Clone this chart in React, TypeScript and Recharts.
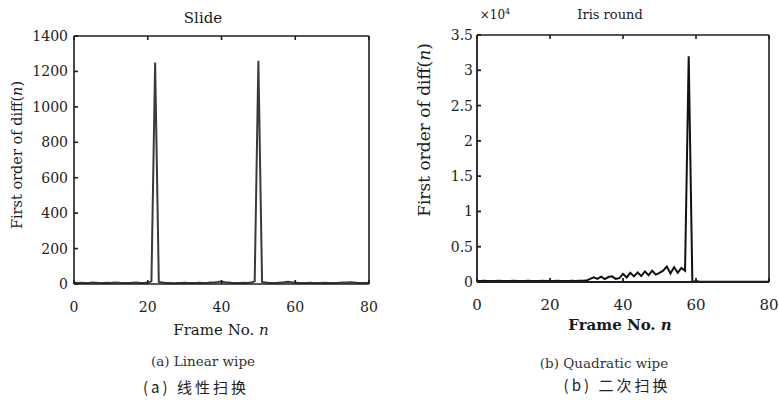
import React from 'react';
import { LineChart, Line, XAxis, YAxis } from 'recharts';

// Frame numbers 0..80
const frames: number[] = Array.from({ length: 81 }, (_, i) => i);

// (a) Slide / Linear wipe: first order of diff(n)
const slideValues: number[] = [
  8, 6, 7, 5, 6, 8, 7, 6, 5, 7, 6, 8, 7, 6, 5, 6, 7, 8, 6, 5,
  8, 15, 1250, 12, 8, 6, 5, 4, 5, 6, 7, 6, 5, 6, 7, 5, 6, 8, 9, 11,
  14, 10, 8, 6, 5, 6, 7, 6, 8, 15, 1260, 12, 8, 6, 5, 6, 8, 10, 13, 10,
  8, 6, 5, 6, 7, 6, 5, 6, 7, 6, 5, 6, 7, 8, 9, 10, 8, 6, 5, 6, 7,
];

// (b) Iris round / Quadratic wipe: first order of diff(n)
const irisValues: number[] = [
  150, 140, 160, 150, 140, 150, 160, 150, 140, 150, 160, 150, 140, 150, 160, 150, 140, 150, 160, 150,
  140, 150, 160, 150, 140, 150, 160, 150, 170, 180, 200, 450, 650, 450, 750, 400, 700, 800, 450, 550,
  1150, 650, 1300, 800, 1350, 850, 1500, 950, 1600, 1050, 1300, 1600, 2200, 1200, 2100, 1300, 2000, 1600, 32000, 0,
  150, 40, 30, 40, 30, 40, 30, 40, 30, 40, 30, 40, 30, 40, 30, 40, 30, 40, 30, 40, 30,
];

const xTicks: number[] = [0, 20, 40, 60, 80];
const slideTicks: number[] = [0, 200, 400, 600, 800, 1000, 1200, 1400];
const irisTicks: number[] = [0, 5000, 10000, 15000, 20000, 25000, 30000, 35000];

const slideData = frames.map((n, i) => ({ n, v: slideValues[i] }));
const irisData = frames.map((n, i) => ({ n, v: irisValues[i] }));

const FONT = '"DejaVu Serif", "Liberation Serif", serif';
const AX = '#1e1e1e';
const tickStyle = { fontSize: 14, fill: '#222', fontFamily: FONT };
const empty = () => '';

const abs = (left: number, top: number, extra: React.CSSProperties = {}): React.CSSProperties => ({
  position: 'absolute',
  left,
  top,
  transform: 'translate(-50%, -50%)',
  whiteSpace: 'nowrap',
  fontFamily: FONT,
  color: '#1a1a1a',
  lineHeight: 1,
  ...extra,
});

export default function App() {
  return (
    <div style={{ position: 'absolute', left: 0, top: 0, width: 779, height: 403, background: '#fff', overflow: 'hidden', fontFamily: FONT }}>
      {/* Left chart */}
      <div style={{ position: 'absolute', left: 0, top: 0, fontFamily: FONT }}>
        <LineChart width={390} height={403} data={slideData} margin={{ top: 35, right: 20, left: 0, bottom: 0 }} style={{ fontFamily: FONT }}>
          <XAxis
            dataKey="n"
            type="number"
            domain={[0, 80]}
            ticks={xTicks}
            height={119}
            tick={tickStyle}
            tickSize={-4}
            tickMargin={22}
            stroke={AX}
            strokeWidth={1.6}
          />
          <XAxis
            xAxisId="top"
            orientation="top"
            dataKey="n"
            type="number"
            domain={[0, 80]}
            ticks={xTicks}
            height={1}
            tickFormatter={empty}
            tickSize={-4}
            stroke={AX}
            strokeWidth={1.6}
          />
          <YAxis
            type="number"
            domain={[0, 1400]}
            ticks={slideTicks}
            width={74}
            tick={tickStyle}
            tickSize={-4}
            tickMargin={10}
            stroke={AX}
            strokeWidth={1.6}
          />
          <YAxis
            yAxisId="right"
            orientation="right"
            type="number"
            domain={[0, 1400]}
            ticks={slideTicks}
            width={1}
            tickFormatter={empty}
            tickSize={-4}
            stroke={AX}
            strokeWidth={1.6}
          />
          <Line
            dataKey="v"
            type="linear"
            stroke="#3a3a3a"
            strokeWidth={2}
            dot={false}
            isAnimationActive={false}
          />
        </LineChart>
      </div>

      {/* Right chart */}
      <div style={{ position: 'absolute', left: 390, top: 0, fontFamily: FONT }}>
        <LineChart width={389} height={403} data={irisData} margin={{ top: 34, right: 9, left: 0, bottom: 0 }} style={{ fontFamily: FONT }}>
          <XAxis
            dataKey="n"
            type="number"
            domain={[0, 80]}
            ticks={xTicks}
            height={121}
            tick={{ ...tickStyle, fontSize: 15 }}
            tickSize={-4}
            tickMargin={21}
            stroke={AX}
            strokeWidth={1.8}
          />
          <XAxis
            xAxisId="top"
            orientation="top"
            dataKey="n"
            type="number"
            domain={[0, 80]}
            ticks={xTicks}
            height={1}
            tickFormatter={empty}
            tickSize={-4}
            stroke={AX}
            strokeWidth={1.6}
          />
          <YAxis
            type="number"
            domain={[0, 35000]}
            ticks={irisTicks}
            width={87}
            tick={tickStyle}
            tickSize={-4}
            tickMargin={8}
            tickFormatter={(v: number) => String(v / 10000)}
            stroke={AX}
            strokeWidth={1.8}
          />
          <YAxis
            yAxisId="right"
            orientation="right"
            type="number"
            domain={[0, 35000]}
            ticks={irisTicks}
            width={1}
            tickFormatter={empty}
            tickSize={-4}
            stroke={AX}
            strokeWidth={1.6}
          />
          <Line
            dataKey="v"
            type="linear"
            stroke="#111"
            strokeWidth={2}
            dot={false}
            isAnimationActive={false}
          />
        </LineChart>
      </div>

      {/* Titles */}
      <div style={abs(203, 18, { fontSize: 15 })}>Slide</div>
      <div style={abs(495, 14, { fontSize: 12 })}>
        ×10<sup style={{ fontSize: 8 }}>4</sup>
      </div>
      <div style={abs(610, 14, { fontSize: 13 })}>Iris round</div>

      {/* Y axis labels */}
      <div style={abs(17, 155, { fontSize: 14.5, transform: 'translate(-50%, -50%) rotate(-90deg)' })}>
        First order of diff(<i>n</i>)
      </div>
      <div style={abs(424, 130, { fontSize: 17, transform: 'translate(-50%, -50%) rotate(-90deg)' })}>
        First order of diff(<i>n</i>)
      </div>

      {/* X axis labels */}
      <div style={abs(221, 330, { fontSize: 15 })}>
        Frame No. <i>n</i>
      </div>
      <div style={abs(620, 325, { fontSize: 15, fontWeight: 'bold' })}>
        Frame No. <i>n</i>
      </div>

      {/* Captions */}
      <div style={abs(203, 362, { fontSize: 13.5, color: '#333' })}>(a) Linear wipe</div>
      <div style={abs(196, 386, { fontSize: 15, color: '#222', fontFamily: '"Noto Sans CJK SC", sans-serif', letterSpacing: 3 })}>
        (a) 线性扫换
      </div>
      <div style={abs(604, 364, { fontSize: 13.5, color: '#333' })}>(b) Quadratic wipe</div>
      <div style={abs(617, 384, { fontSize: 15, color: '#222', fontFamily: '"Noto Sans CJK SC", sans-serif', letterSpacing: 3 })}>
        (b) 二次扫换
      </div>
    </div>
  );
}
